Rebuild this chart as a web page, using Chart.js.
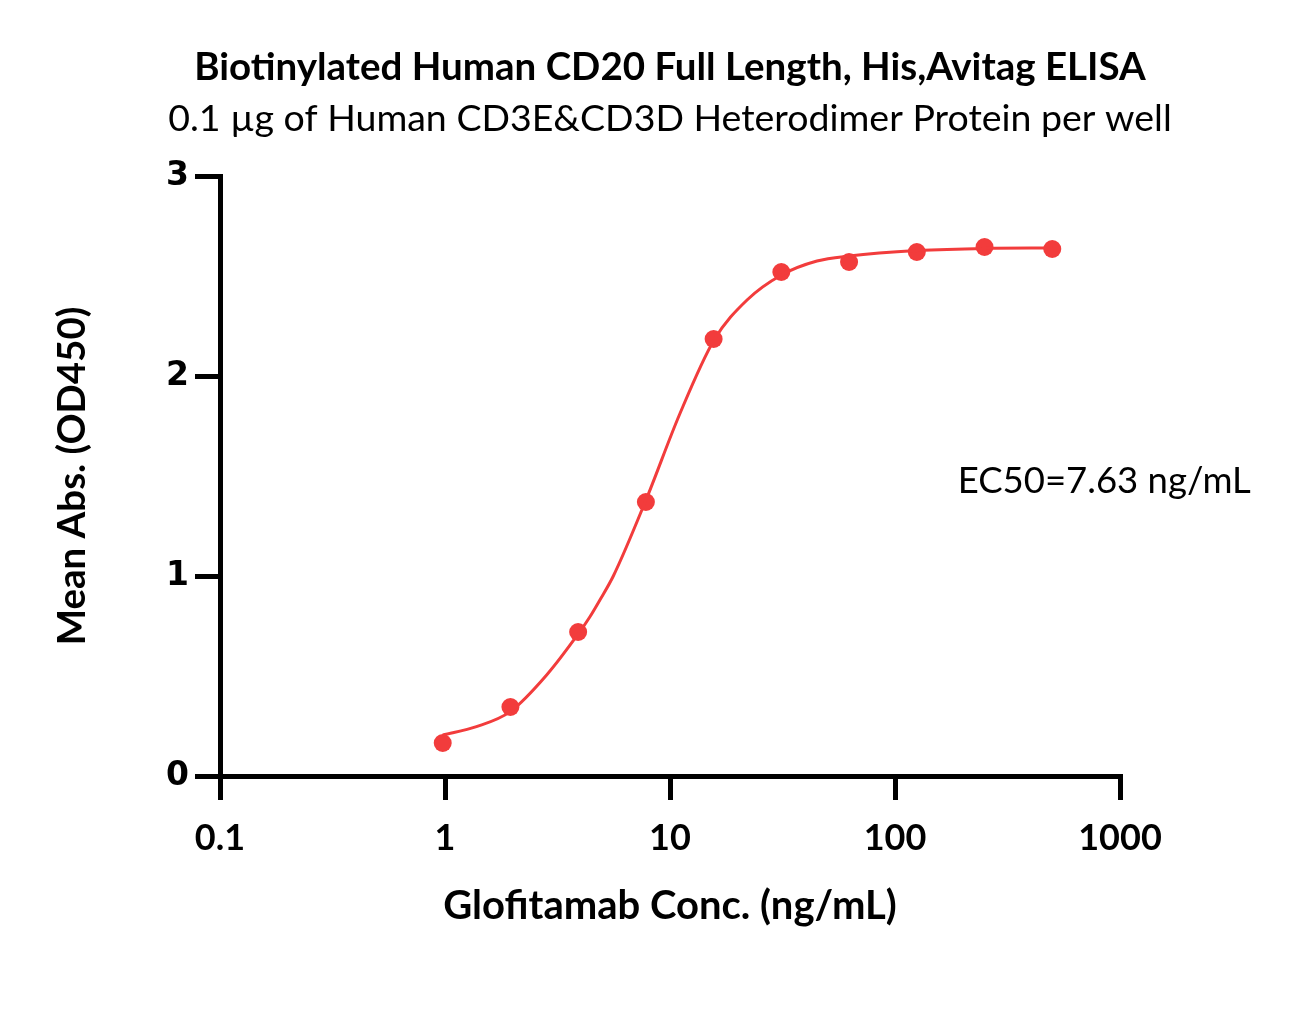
<!DOCTYPE html>
<html>
<head>
<meta charset="utf-8">
<script src="https://cdn.jsdelivr.net/npm/chart.js@4.4.0/dist/chart.umd.min.js"></script>
<style>
  html, body { margin: 0; padding: 0; background: #fff; }
  #wrap { width: 1295px; height: 1023px; }
</style>
</head>
<body>
<div id="wrap"><canvas id="elisa" width="1295" height="1023"></canvas></div>
<script>
// --- data ---
const chartTitle = 'Biotinylated Human CD20 Full Length, His,Avitag ELISA';
const chartSubtitle = '0.1 µg of Human CD3E&CD3D Heterodimer Protein per well';
const xTitle = 'Glofitamab Conc. (ng/mL)';
const yTitle = 'Mean Abs. (OD450)';
const ec50Label = 'EC50=7.63 ng/mL';

// measured points (2-fold dilution series)
const concX = [0.977, 1.953, 3.906, 7.813, 15.625, 31.25, 62.5, 125, 250, 500];
const meanAbs = [0.165, 0.345, 0.72, 1.37, 2.185, 2.52, 2.57, 2.62, 2.645, 2.635];

// fitted curve
const curveX = [0.977, 1.38, 1.95, 2.83, 3.93, 4.4, 4.88, 5.6, 7.82, 11.05, 15.7, 22, 31.3, 45, 62.6, 125, 250, 500];
const curveY = [0.205, 0.247, 0.322, 0.505, 0.714, 0.795, 0.88, 1.0, 1.38, 1.81, 2.18, 2.38, 2.505, 2.575, 2.60, 2.627, 2.638, 2.64];

const xTickValues = [0.1, 1, 10, 100, 1000];
const yTickValues = [0, 1, 2, 3];

const RED = 'rgb(242, 60, 60)';
const CALIBRI = 'Lato, "Open Sans", sans-serif';

// title, subtitle and EC50 note, centred on the plot area like the original
const textPlugin = {
    id: 'elisaText',
    afterDraw(chart) {
        const { ctx, chartArea, scales } = chart;
        const cx = (chartArea.left + chartArea.right) / 2;
        ctx.save();
        ctx.fillStyle = '#000';
        ctx.textAlign = 'center';
        ctx.textBaseline = 'middle';
        ctx.font = 'bold 38.5px ' + CALIBRI;
        ctx.fillText(chartTitle, cx, 68);
        ctx.font = '37.5px ' + CALIBRI;
        ctx.fillText(chartSubtitle, cx, 119);

        ctx.textAlign = 'left';
        ctx.font = '36.5px ' + CALIBRI;
        ctx.fillText(ec50Label, scales.x.getPixelForValue(190), scales.y.getPixelForValue(1.475));
        ctx.restore();
    }
};

const ctx = document.getElementById('elisa').getContext('2d');
new Chart(ctx, {
    type: 'line',
    data: {
        datasets: [
            {
                label: 'Fit',
                data: curveX.map((x, i) => ({ x, y: curveY[i] })),
                borderColor: RED,
                borderWidth: 3,
                pointRadius: 0,
                cubicInterpolationMode: 'monotone',
                fill: false
            },
            {
                label: 'Mean Abs.',
                data: concX.map((x, i) => ({ x, y: meanAbs[i] })),
                showLine: false,
                pointRadius: 9,
                pointBackgroundColor: RED,
                pointBorderWidth: 0,
                borderColor: RED
            }
        ]
    },
    options: {
        responsive: false,
        animation: false,
        layout: { padding: { top: 176, right: 175, left: 0, bottom: 0 } },
        plugins: {
            legend: { display: false },
            tooltip: { enabled: false }
        },
        scales: {
            x: {
                type: 'logarithmic',
                min: 0.1,
                max: 1000,
                afterBuildTicks: (scale) => { scale.ticks = xTickValues.map(v => ({ value: v })); },
                afterFit: (scale) => { scale.height = 247; },
                border: { display: true, color: '#000', width: 5 },
                grid: { drawOnChartArea: false, drawTicks: true, tickLength: 24, tickWidth: 5, tickColor: '#000', lineWidth: 5 },
                ticks: {
                    color: '#000',
                    padding: 17,
                    maxRotation: 0,
                    font: { family: CALIBRI, weight: 'bold', size: 36 },
                    callback: (v) => String(v)
                },
                title: {
                    display: true,
                    text: xTitle,
                    color: '#000',
                    font: { family: CALIBRI, weight: 'bold', size: 40 },
                    padding: { top: 0, bottom: 93 }
                }
            },
            y: {
                min: 0,
                max: 3,
                afterBuildTicks: (scale) => { scale.ticks = yTickValues.map(v => ({ value: v })); },
                afterFit: (scale) => { scale.width = 220; },
                border: { display: true, color: '#000', width: 5 },
                grid: { drawOnChartArea: false, drawTicks: true, tickLength: 25, tickWidth: 5, tickColor: '#000', lineWidth: 5 },
                ticks: {
                    color: '#000',
                    padding: 6,
                    font: { family: '"DejaVu Sans", Verdana, sans-serif', weight: 'bold', size: 33 }
                },
                title: {
                    display: true,
                    text: yTitle,
                    color: '#000',
                    font: { family: CALIBRI, weight: 'bold', size: 38.5 },
                    padding: { top: 49, bottom: 0 }
                }
            }
        }
    },
    plugins: [textPlugin]
});
</script>
</body>
</html>
